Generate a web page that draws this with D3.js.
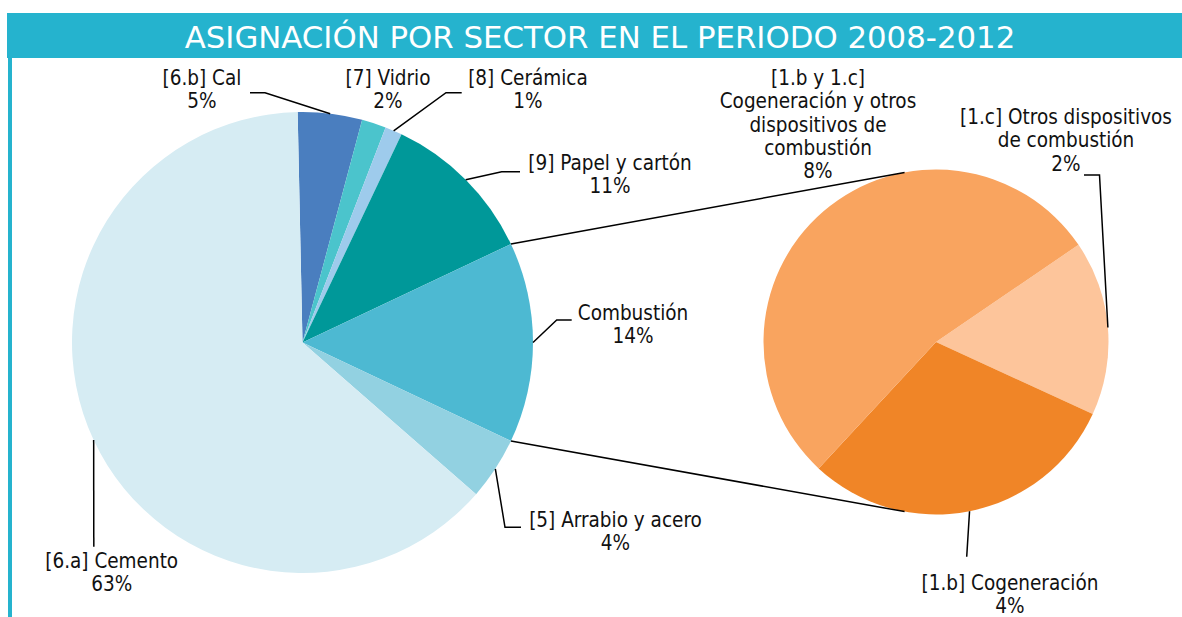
<!doctype html>
<html lang="es">
<head>
<meta charset="utf-8">
<title>Asignación por sector en el periodo 2008-2012</title>
<script src="https://d3js.org/d3.v7.min.js"></script>
<style>
    html, body { margin: 0; padding: 0; background: #fff; }
    svg { display: block; }
    .etiqueta { font-family: "DejaVu Sans Condensed", "DejaVu Sans", sans-serif; font-size: 20.5px; fill: #111; }
    .titulo { font-family: "DejaVu Sans", sans-serif; font-size: 30.8px; fill: #fff; }
</style>
</head>
<body>
<div id="grafico"></div>
<script>
// datos del grafico principal (% del total)
var sectores = ["[6.b] Cal", "[7] Vidrio", "[8] Cerámica", "[9] Papel y cartón", "Combustión", "[5] Arrabio y acero", "[6.a] Cemento"]
var valores = [4.5, 1.7, 1.2, 10.9, 14.04, 4.4, 63.2]
var colores = ["#4a7ebf", "#4bc4cc", "#9ecbec", "#009899", "#4db9d2", "#92d1e1", "#d6ecf3"]

// desglose de combustión (grafico secundario)
var subSectores = ["[1.c] Otros dispositivos de combustión", "[1.b] Cogeneración", "[1.b y 1.c] Cogeneración y otros dispositivos de combustión"]
var subValores = [2.3, 4.22, 7.52]
var subColores = ["#fdc59b", "#f08527", "#f9a45f"]

// lineas de texto de cada etiqueta
var lineasSectores = [["[6.b] Cal"], ["[7] Vidrio"], ["[8] Cerámica"], ["[9] Papel y cartón"], ["Combustión"], ["[5] Arrabio y acero"], ["[6.a] Cemento"]]
var lineasSub = [["[1.c] Otros dispositivos", "de combustión"], ["[1.b] Cogeneración"], ["[1.b y 1.c]", "Cogeneración y otros", "dispositivos de", "combustión"]]

var titulo = "ASIGNACIÓN POR SECTOR EN EL PERIODO 2008-2012"

var width = 1182,
    height = 617
var azul = "#25b3ce"

var svg = d3.select("#grafico").append("svg")
    .attr("width", width)
    .attr("height", height)

// marco y titulo
svg.append("rect").attr("x", 7).attr("y", 13).attr("width", width - 7).attr("height", 45).attr("fill", azul)
svg.append("rect").attr("x", 8).attr("y", 13).attr("width", 4).attr("height", height - 13).attr("fill", azul)
svg.append("text").attr("class", "titulo")
    .attr("x", 600).attr("y", 48)
    .attr("text-anchor", "middle")
    .text(titulo)

var total = d3.sum(valores)
function pct(v) { return Math.round(v / total * 100) + "%" }

var rad = Math.PI / 180

// el sector combustion queda centrado a las 3 en punto
var iComb = sectores.indexOf("Combustión")
var antes = d3.sum(valores.slice(0, iComb)) + valores[iComb] / 2
var inicio = Math.PI / 2 - antes / total * 2 * Math.PI

var c1 = { x: 302.5, y: 342.5, r: 230.5 }
var c2 = { x: 936, y: 342, r: 172.5 }

var pie1 = d3.pie().sort(null).startAngle(inicio).endAngle(inicio + 2 * Math.PI)
var pie2 = d3.pie().sort(null).startAngle(55.7 * rad).endAngle(55.7 * rad + 2 * Math.PI)
var arcos1 = pie1(valores)
var arcos2 = pie2(subValores)

function punto(c, a, r) {
    return [c.x + (r || c.r) * Math.sin(a), c.y - (r || c.r) * Math.cos(a)]
}

var g1 = svg.append("g").attr("transform", "translate(" + c1.x + "," + c1.y + ")")
g1.selectAll("path").data(arcos1).enter().append("path")
    .attr("d", d3.arc().innerRadius(0).outerRadius(c1.r))
    .attr("fill", function(d, i) { return colores[i] })

var g2 = svg.append("g").attr("transform", "translate(" + c2.x + "," + c2.y + ")")
g2.selectAll("path").data(arcos2).enter().append("path")
    .attr("d", d3.arc().innerRadius(0).outerRadius(c2.r))
    .attr("fill", function(d, i) { return subColores[i] })

// lineas que unen los dos graficos
var comb = arcos1[iComb]
var conector = 10.5 * rad
var uniones = [
    [punto(c1, comb.startAngle), punto(c2, -conector)],
    [punto(c1, comb.endAngle), punto(c2, Math.PI + conector)]
]
svg.selectAll(".union").data(uniones).enter().append("path")
    .attr("class", "union")
    .attr("d", d3.line())
    .attr("fill", "none")
    .attr("stroke", "#000")
    .attr("stroke-width", 1.5)

// posicion de etiquetas: centro del texto, primera linea base, codo de la linea guia
var lay1 = [
    { x: 202, y: 84.5, guia: [[250, 92.7], [265, 92.7]] },
    { x: 388, y: 84.5, guia: null },
    { x: 528, y: 84.5, guia: [[461.7, 92.7], [446, 92.7]] },
    { x: 610, y: 170, guia: [[520, 171.7], [501.7, 171.7]] },
    { x: 633, y: 320, guia: [[571.7, 320], [556.7, 320]] },
    { x: 615.5, y: 526.7, guia: [[521, 527.3], [505, 527.3]] },
    { x: 111.7, y: 568, guia: [[93.8, 546.7]] }
]
var lay2 = [
    { x: 1066, y: 124, guia: [[1084, 175], [1099.5, 175]] },
    { x: 1010, y: 590, guia: [[966.7, 556.7]] },
    { x: 818, y: 85, guia: null }
]
var interlinea = 23.3

function etiquetas(arcos, c, lineas, valoresSerie, lay) {
    arcos.forEach(function(d, i) {
        var l = lay[i]
        var medio = (d.startAngle + d.endAngle) / 2
        if (l.guia) {
            svg.append("path")
                .attr("d", d3.line()(l.guia.concat([punto(c, medio)])))
                .attr("fill", "none")
                .attr("stroke", "#000")
                .attr("stroke-width", 1.5)
        }
        var texto = lineas[i].concat([pct(valoresSerie[i])])
        var t = svg.append("text").attr("class", "etiqueta").attr("text-anchor", "middle")
        t.selectAll("tspan").data(texto).enter().append("tspan")
            .attr("x", l.x)
            .attr("y", function(s, k) { return l.y + k * interlinea })
            .text(function(s) { return s })
    })
}

etiquetas(arcos1, c1, lineasSectores, valores, lay1)
etiquetas(arcos2, c2, lineasSub, subValores, lay2)
</script>
</body>
</html>
